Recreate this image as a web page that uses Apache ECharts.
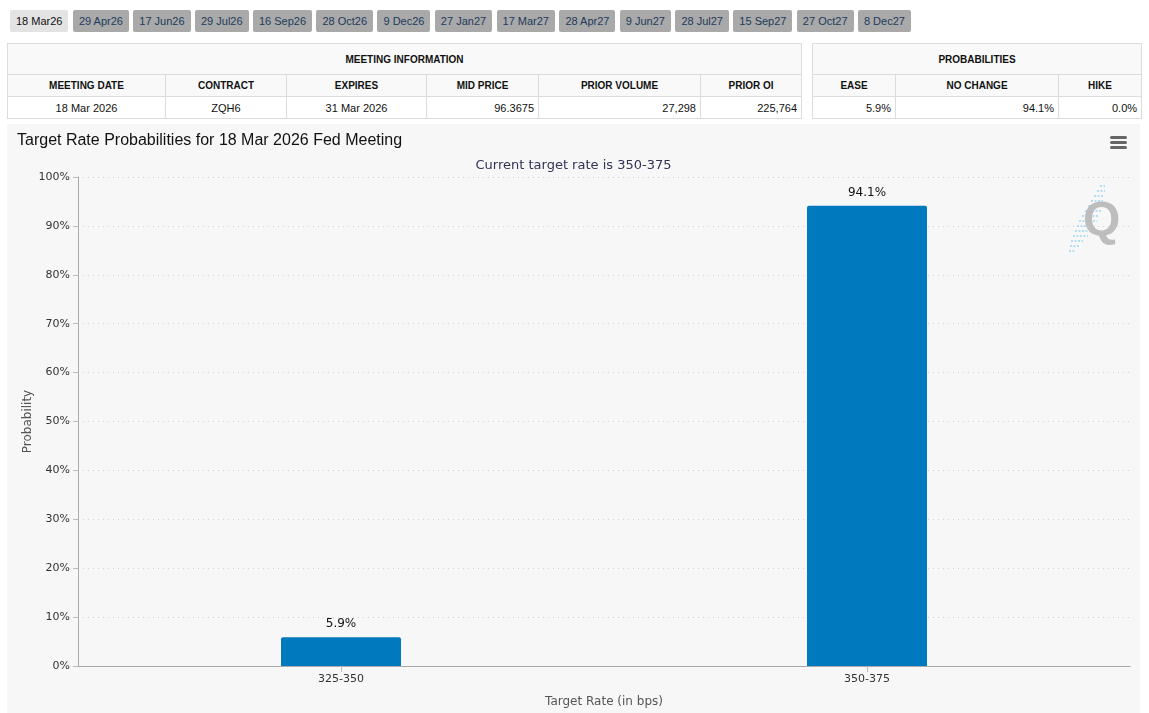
<!DOCTYPE html>
<html>
<head>
<meta charset="utf-8">
<script src="https://cdn.jsdelivr.net/npm/echarts@6/dist/echarts.min.js"></script>
<style>
  html, body { margin: 0; padding: 0; background: #fff; width: 1149px; height: 713px; overflow: hidden; font-family: Arial, "Liberation Sans", Helvetica, sans-serif; }
  #tabs { position: absolute; left: 10px; top: 10px; height: 22px; white-space: nowrap; font-size: 0; }
  .tab { display: inline-block; height: 22px; line-height: 22px; padding: 0 6px; margin-right: 4.4px; font-size: 11px; color: #1d3b5c; background: #a9a9a9; border-radius: 2px; box-sizing: border-box; }
  .tab.active { background: #e3e3e3; color: #111; }
  table { position: absolute; border-collapse: collapse; font-family: Arial, "Liberation Sans", sans-serif; table-layout: fixed; }
  td, th { border: 1px solid #dcdcdc; padding: 0 4px; box-sizing: border-box; overflow: hidden; white-space: nowrap; }
  th { font-size: 10px; font-weight: bold; color: #111; background: #f9f9f9; text-align: center; }
  tr.title th { height: 31px; }
  tr.head th { height: 22px; }
  td { font-size: 11px; color: #111; height: 22px; background: #fff; }
  td.c { text-align: center; }
  td.r { text-align: right; }
  #chart { position: absolute; left: 7px; top: 124px; width: 1133px; height: 589px; background: #f7f7f7; }
</style>
</head>
<body>
<div id="tabs"></div>
<table id="meet" style="left:7px; top:43px; width:794px;"></table>
<table id="prob" style="left:812px; top:43px; width:329px;"></table>
<div id="chart"></div>
<script>
// ---- data ----
var meetingTabs = ['18 Mar26','29 Apr26','17 Jun26','29 Jul26','16 Sep26','28 Oct26','9 Dec26','27 Jan27','17 Mar27','28 Apr27','9 Jun27','28 Jul27','15 Sep27','27 Oct27','8 Dec27'];
var meetingHeaders = ['MEETING DATE','CONTRACT','EXPIRES','MID PRICE','PRIOR VOLUME','PRIOR OI'];
var meetingValues = ['18 Mar 2026','ZQH6','31 Mar 2026','96.3675','27,298','225,764'];
var probHeaders = ['EASE','NO CHANGE','HIKE'];
var probValues = ['5.9%','94.1%','0.0%'];
var categories = ['325-350','350-375'];
var probabilities = [5.9, 94.1];
var currentRate = '350-375';

// ---- tabs ----
var tabsEl = document.getElementById('tabs');
meetingTabs.forEach(function (t, i) {
  var d = document.createElement('span');
  d.className = 'tab' + (i === 0 ? ' active' : '');
  d.textContent = t;
  tabsEl.appendChild(d);
});

// ---- tables ----
function buildTable(el, title, headers, values, widths, aligns) {
  var html = '<colgroup>' + widths.map(function (w) { return '<col style="width:' + w + 'px">'; }).join('') + '</colgroup>';
  html += '<tr class="title"><th colspan="' + headers.length + '">' + title + '</th></tr>';
  html += '<tr class="head">' + headers.map(function (h) { return '<th>' + h + '</th>'; }).join('') + '</tr>';
  html += '<tr>' + values.map(function (v, i) { return '<td class="' + aligns[i] + '">' + v + '</td>'; }).join('') + '</tr>';
  el.innerHTML = html;
}
buildTable(document.getElementById('meet'), 'MEETING INFORMATION', meetingHeaders, meetingValues,
  [158, 121, 140, 112, 162, 101], ['c','c','c','r','r','r']);
buildTable(document.getElementById('prob'), 'PROBABILITIES', probHeaders, probValues,
  [83, 163, 83], ['r','r','r']);

// ---- chart ----
var chart = echarts.init(document.getElementById('chart'));

var hatch = [];
var hatchRows = [[1100,186,5],[1097,191,8],[1094,196,10],[1091,201,12],[1088,206,14],[1085,211,16],[1082,216,17],[1079,221,18],[1077,226,18],[1075,231,17],[1073,236,15],[1071,241,12],[1070,246,9],[1069,251,6]];
hatchRows.forEach(function (r) {
  hatch.push({ type: 'line', shape: { x1: r[0] - 7, y1: r[1] - 124, x2: r[0] - 7 + r[2], y2: r[1] - 124 },
    style: { stroke: '#9ad6ee', lineWidth: 1.5, lineDash: [2, 1.5] }, silent: true });
});

chart.setOption({
  animation: false,
  backgroundColor: '#f7f7f7',
  title: [
    { text: 'Target Rate Probabilities for 18 Mar 2026 Fed Meeting', left: 5, top: 4,
      textStyle: { fontFamily: 'Arial, Liberation Sans, sans-serif', fontSize: 16, fontWeight: 'normal', color: '#111' } },
    { text: 'Current target rate is ' + currentRate, left: 'center', top: 30,
      textStyle: { fontFamily: 'DejaVu Sans, sans-serif', fontSize: 13, fontWeight: 'normal', color: '#333355' } }
  ],
  grid: { left: 71, right: 10, top: 53, bottom: 47, containLabel: false },
  xAxis: {
    type: 'category',
    data: categories,
    name: 'Target Rate (in bps)',
    nameLocation: 'middle',
    nameGap: 30,
    nameMoveOverlap: false,
    nameTextStyle: { fontFamily: 'DejaVu Sans, sans-serif', fontSize: 12, color: '#555' },
    axisLine: { lineStyle: { color: '#aaa', width: 1 } },
    axisTick: { show: true, alignWithLabel: true, length: 6, lineStyle: { color: '#bbb' } },
    axisLabel: { fontFamily: 'DejaVu Sans, sans-serif', fontSize: 11, color: '#333', margin: 8 }
  },
  yAxis: {
    type: 'value',
    min: 0, max: 100, interval: 10,
    name: 'Probability',
    nameLocation: 'middle',
    nameGap: 44,
    nameMoveOverlap: false,
    nameRotate: 90,
    nameTextStyle: { fontFamily: 'DejaVu Sans, sans-serif', fontSize: 12, color: '#555' },
    axisLine: { show: true, lineStyle: { color: '#aaa', width: 1 } },
    axisTick: { show: true, length: 5, lineStyle: { color: '#bbb' } },
    axisLabel: { formatter: '{value}%', fontFamily: 'DejaVu Sans, sans-serif', fontSize: 11, color: '#333', margin: 8 },
    splitLine: { show: true, lineStyle: { color: '#cfcfcf', type: [1, 4], width: 1 } }
  },
  series: [{
    type: 'bar',
    data: probabilities,
    barWidth: 120,
    itemStyle: { color: '#0179be', borderRadius: [2, 2, 0, 0] },
    label: { show: true, position: 'top', distance: 7, formatter: function (p) { return p.value.toFixed(1) + '%'; },
      fontFamily: 'DejaVu Sans, sans-serif', fontSize: 12, color: '#111' }
  }],
  graphic: [
    { type: 'rect', shape: { x: 1103, y: 12, width: 17, height: 3, r: 1.5 }, style: { fill: '#666' }, silent: true },
    { type: 'rect', shape: { x: 1103, y: 17, width: 17, height: 3, r: 1.5 }, style: { fill: '#666' }, silent: true },
    { type: 'rect', shape: { x: 1103, y: 22, width: 17, height: 3, r: 1.5 }, style: { fill: '#666' }, silent: true }
  ].concat(hatch).concat([
    { type: 'text', left: 1076, top: 74, style: { text: 'Q', fontFamily: 'Arial, Liberation Sans, sans-serif', fontWeight: 'bold', fontSize: 48, fill: '#bdbdbd' }, silent: true }
  ])
});
</script>
</body>
</html>
